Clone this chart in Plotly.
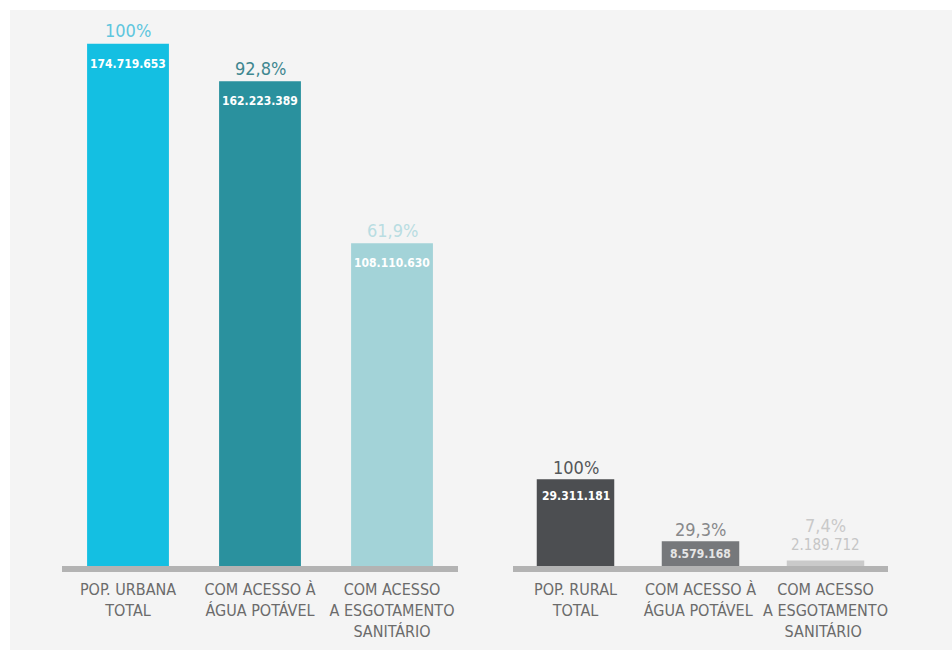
import plotly.graph_objects as go

# ---- data ----
urban_cats = ["POP. URBANA<br>TOTAL", "COM ACESSO À<br>ÁGUA POTÁVEL", "COM ACESSO<br>A ESGOTAMENTO<br>SANITÁRIO"]
urban_vals = [174719653, 162223389, 108110630]
urban_pct = ["100%", "92,8%", "61,9%"]
urban_lbl = ["174.719.653", "162.223.389", "108.110.630"]

rural_cats = ["POP. RURAL<br>TOTAL", "COM ACESSO À<br>ÁGUA POTÁVEL ", "COM ACESSO<br>A ESGOTAMENTO<br>SANITÁRIO "]
rural_vals = [29311181, 8579168, 2189712]
rural_pct = ["100%", "29,3%", "7,4%"]
rural_lbl = ["29.311.181", "8.579.168", "2.189.712"]

# ---- styles ----
FONT = "DejaVu Sans Condensed, Liberation Sans Narrow, Roboto Condensed, sans-serif"
urban_colors = ["#14bfe2", "#2a919e", "#a3d3d8"]
urban_pct_colors = ["#5ec6de", "#3f8790", "#b9dde2"]
urban_val_colors = ["#ffffff", "#ffffff", "#ffffff"]
rural_colors = ["#4c4e51", "#76787b", "#cacaca"]
rural_pct_colors = ["#555759", "#88898b", "#c9c9c9"]
rural_val_colors = ["#ffffff", "#e6e6e6", "#c6c6c6"]

H, W = 650, 952
T, B = 28, 77
YMIN, YMAX = -2e6, 180e6
plot_h = H - T - B

fig = go.Figure()
fig.add_trace(go.Bar(x=urban_cats, y=urban_vals, marker_color=urban_colors,
                     marker_line_width=0, xaxis="x", yaxis="y", hoverinfo="skip"))
fig.add_trace(go.Bar(x=rural_cats, y=rural_vals, marker_color=rural_colors,
                     marker_line_width=0, xaxis="x2", yaxis="y2", hoverinfo="skip"))

ann = []
for i, c in enumerate(urban_cats):
    ann.append(dict(x=c, y=urban_vals[i], xref="x", yref="y", text=urban_pct[i],
                    showarrow=False, yshift=13, font=dict(family=FONT, size=18, color=urban_pct_colors[i])))
    ann.append(dict(x=c, y=urban_vals[i], xref="x", yref="y", text="<b>" + urban_lbl[i] + "</b>",
                    showarrow=False, yshift=-20, font=dict(family=FONT, size=12, color=urban_val_colors[i])))
for i, c in enumerate(rural_cats):
    inside = rural_vals[i] > 5e6
    ann.append(dict(x=c, y=rural_vals[i], xref="x2", yref="y2", text=rural_pct[i],
                    showarrow=False, yshift=12 if inside else 35,
                    font=dict(family=FONT, size=18, color=rural_pct_colors[i])))
    ann.append(dict(x=c, y=rural_vals[i], xref="x2", yref="y2",
                    text=("<b>" + rural_lbl[i] + "</b>") if inside else rural_lbl[i],
                    showarrow=False, yshift=(-17 if i == 0 else -13) if inside else 15,
                    font=dict(family=FONT, size=12 if inside else 15, color=rural_val_colors[i])))

# page-pixel to paper conversions for the white frame strips
def py(px):
    return (H - B - px) / plot_h

shapes = [
    dict(type="rect", xref="paper", yref="paper", x0=-0.05, x1=1.05, y0=py(10), y1=py(-20),
         fillcolor="#ffffff", line_width=0, layer="below"),
    dict(type="rect", xref="paper", yref="paper", x0=-0.05, x1=10 / W, y0=py(H + 20), y1=py(-20),
         fillcolor="#ffffff", line_width=0, layer="below"),
    dict(type="rect", xref="x domain", yref="y", x0=0, x1=1, y0=-5, y1=1,
         ysizemode="pixel", yanchor=0, fillcolor="#b3b3b3", line_width=0, layer="above"),
    dict(type="rect", xref="x2 domain", yref="y2", x0=0, x1=1, y0=-5, y1=1,
         ysizemode="pixel", yanchor=0, fillcolor="#b3b3b3", line_width=0, layer="above"),
]

axis_common = dict(showgrid=False, zeroline=False, showline=False, ticks="",
                   ticklabelstandoff=5,
                   tickfont=dict(family=FONT, size=16, color="#6b6b6b"), fixedrange=True)
fig.update_layout(
    width=W, height=H,
    margin=dict(l=0, r=0, t=T, b=B),
    paper_bgcolor="#f4f4f4", plot_bgcolor="rgba(0,0,0,0)",
    showlegend=False, bargap=0.38,
    xaxis=dict(domain=[62 / W, 458 / W], **axis_common),
    xaxis2=dict(domain=[513 / W, 888 / W], anchor="y2", **axis_common),
    yaxis=dict(range=[YMIN, YMAX], visible=False),
    yaxis2=dict(range=[YMIN, YMAX], visible=False, anchor="x2"),
    annotations=ann, shapes=shapes,
)
fig.write_html("out.html")
